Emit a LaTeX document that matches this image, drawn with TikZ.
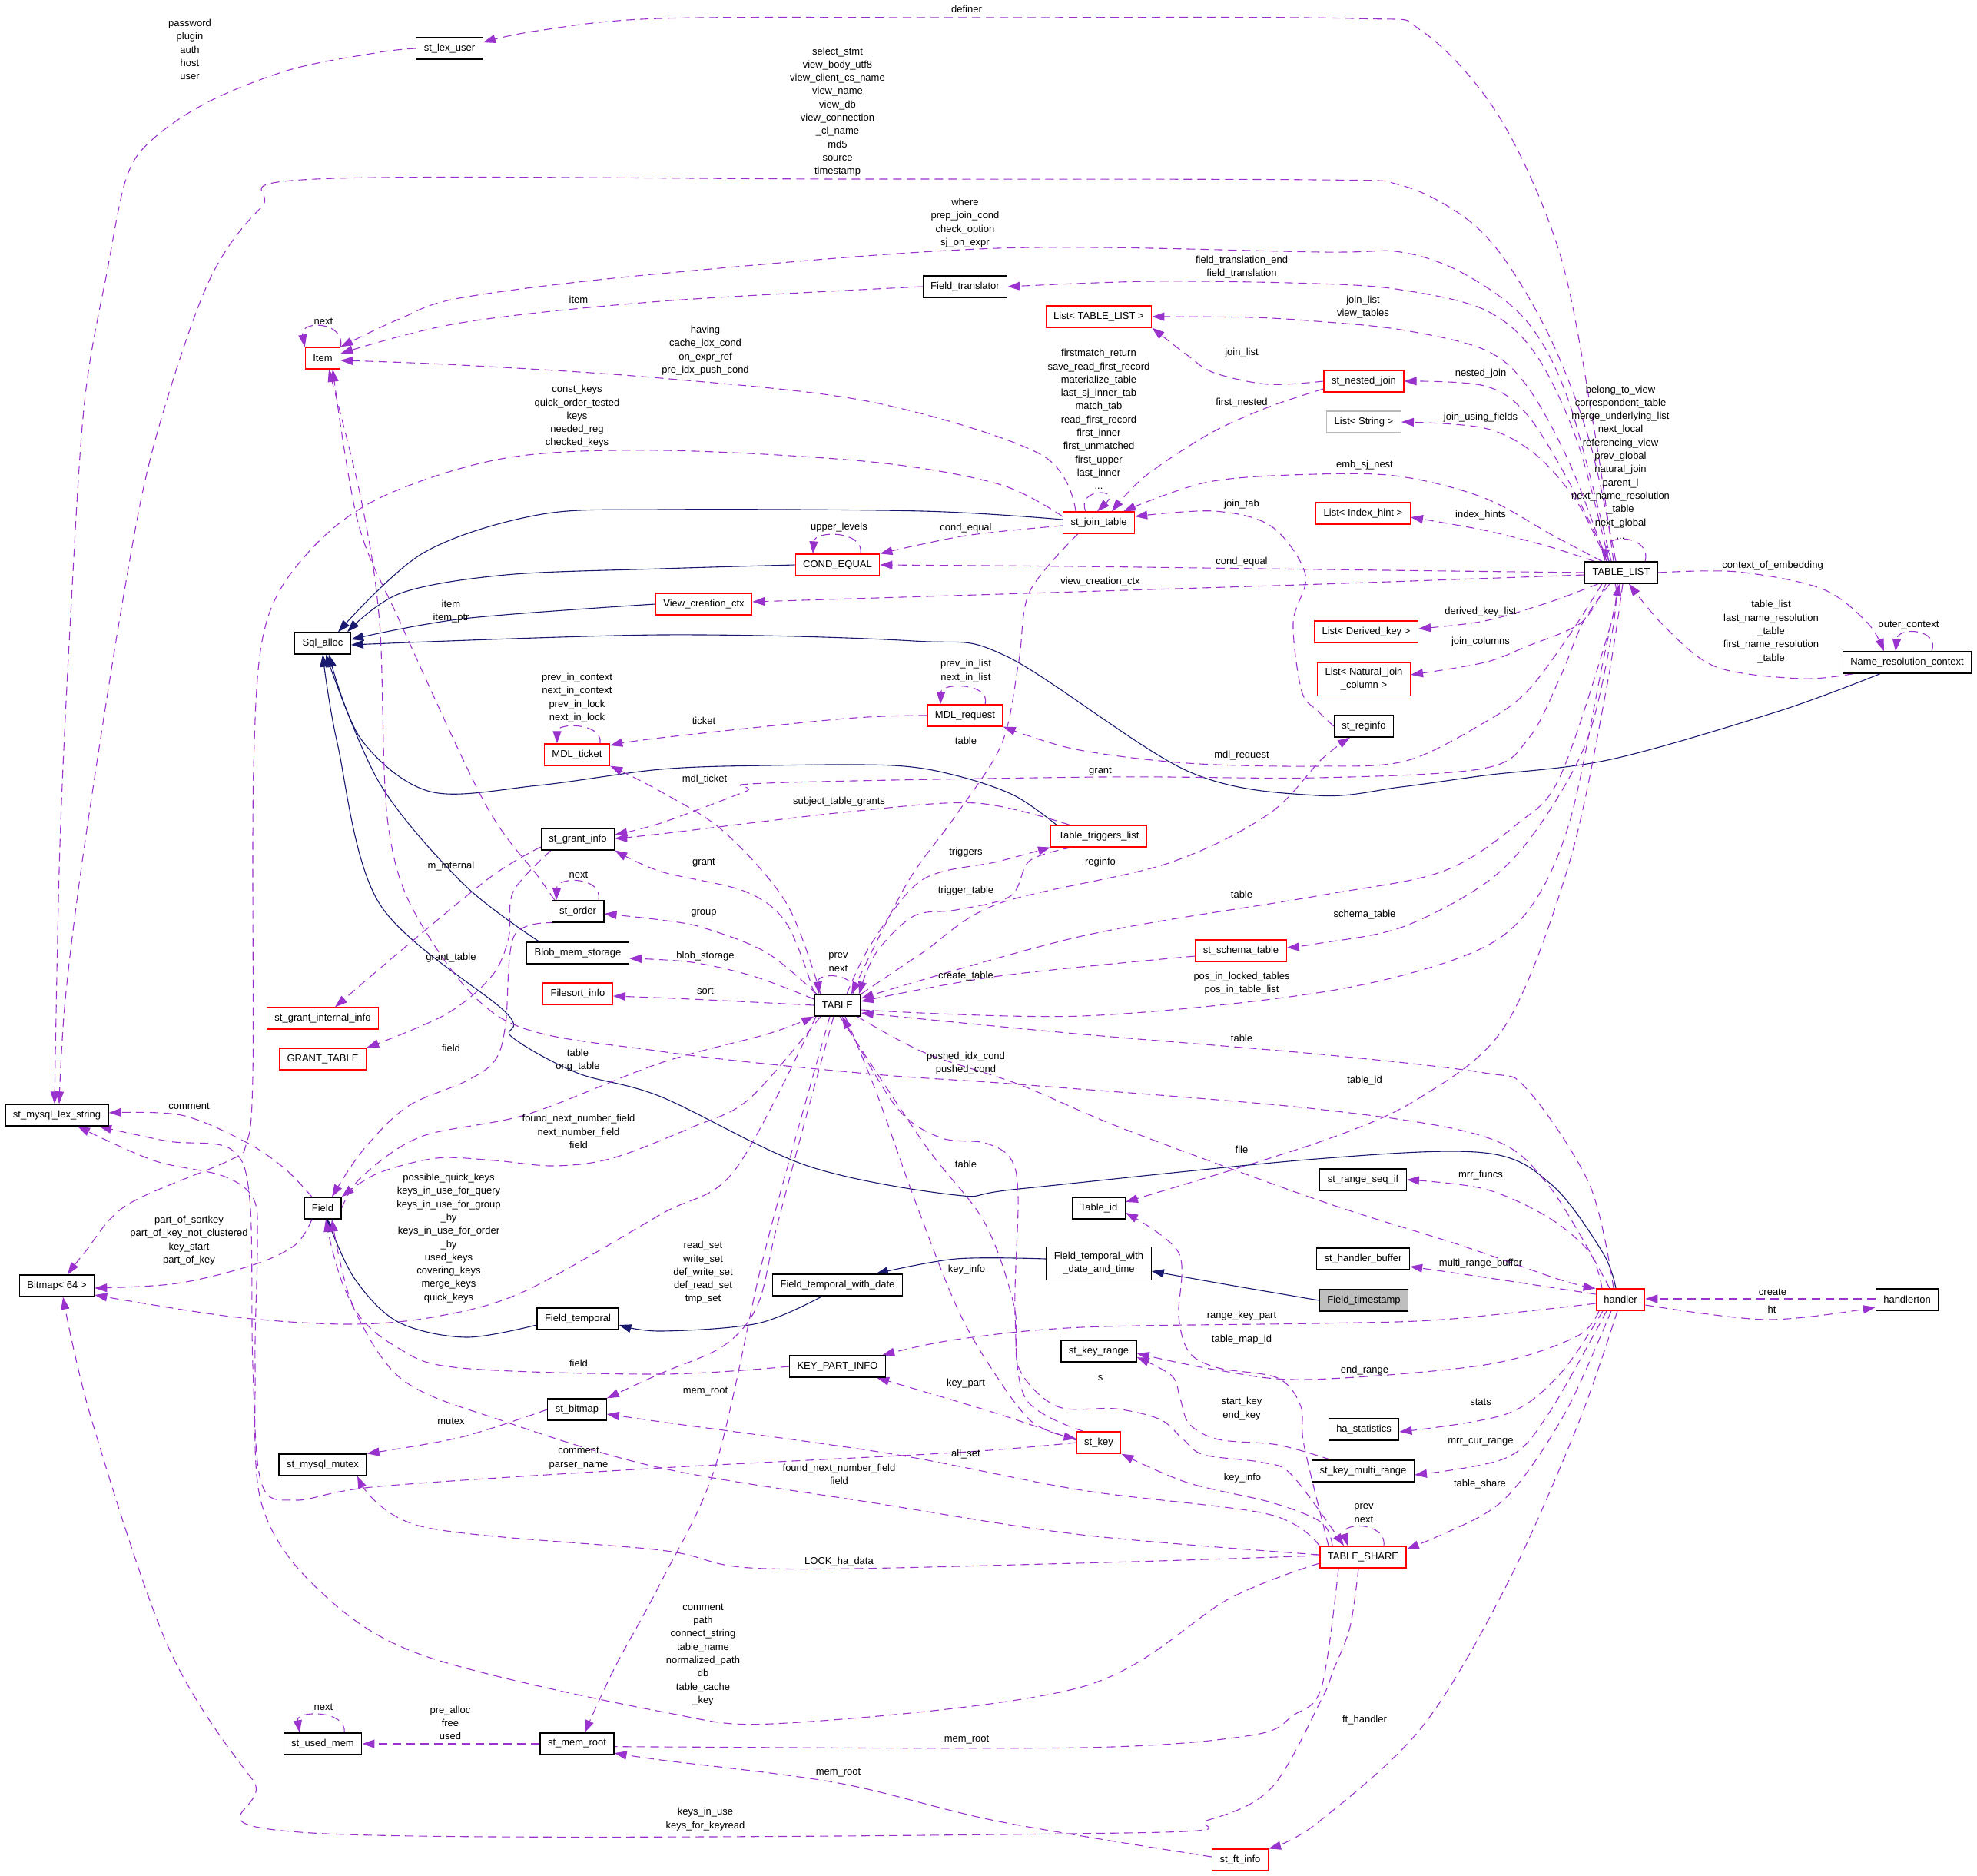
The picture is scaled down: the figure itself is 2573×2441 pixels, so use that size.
\documentclass[tikz,border=0pt]{standalone}
\usepackage{fontspec}
\setmainfont{Liberation Sans}
\usetikzlibrary{arrows.meta}
\pgfdeclarelayer{bg}
\pgfsetlayers{bg,main}
\definecolor{depc}{RGB}{154,50,205}
\definecolor{inhc}{RGB}{25,25,112}
\tikzset{
 cls/.style={draw=black, line width=1.3pt, fill=white, inner xsep=10pt, inner ysep=0pt, minimum height=28pt, font=\fontsize{13}{17}\selectfont, align=center},
 rcls/.style={cls, draw=red},
 gcls/.style={cls, draw=gray!55},
 lab/.style={font=\fontsize{13}{17.3}\selectfont, align=center, inner sep=0pt},
 deparr/.style={draw=depc, line width=1.1pt, dash pattern=on 11pt off 7pt, -{Triangle[length=16pt,width=11pt,fill=depc]}},
 inharr/.style={draw=inhc, line width=1.1pt, -{Triangle[length=16pt,width=11pt,fill=inhc]}},
 sm/.style={smooth, tension=0.55}
}
\begin{document}
\begin{tikzpicture}[x=1pt,y=-1pt]
\useasboundingbox (0,0) rectangle (2573,2441);
\begin{pgfonlayer}{bg}
\fill[white] (0,0) rectangle (2573,2441);
\end{pgfonlayer}
% ---------------- nodes
\node[cls] (stlex) at (585,63) {st\_lex\_user};
\node[rcls] (item) at (420,466) {Item};
\node[cls] (ftrans) at (1256,373) {Field\_translator};
\node[rcls] (ltl) at (1430,412) {List< TABLE\_LIST >};
\node[rcls] (nested) at (1775,496) {st\_nested\_join};
\node[gcls] (lstr) at (1775,549) {List< String >};
\node[rcls] (jt) at (1430,680) {st\_join\_table};
\node[rcls] (lih) at (1774,668) {List< Index\_hint >};
\node[rcls] (condeq) at (1090,735) {COND\_EQUAL};
\node[cls] (TL) at (2110,745) {TABLE\_LIST};
\node[rcls] (vcc) at (916,786) {View\_creation\_ctx};
\node[rcls] (ldk) at (1778,822) {List< Derived\_key >};
\node[cls] (sqla) at (420,837) {Sql\_alloc};
\node[cls] (nrc) at (2482,862) {Name\_resolution\_context};
\node[rcls, inner ysep=7pt] (lnjc) at (1775,884) {List< Natural\_join\\\_column >};
\node[rcls] (mdlreq) at (1256,931) {MDL\_request};
\node[cls] (reginfo) at (1775,945) {st\_reginfo};
\node[rcls] (mdlt) at (751,982) {MDL\_ticket};
\node[rcls] (ttl) at (1430,1088) {Table\_triggers\_list};
\node[cls] (sgi) at (752,1092) {st\_grant\_info};
\node[cls] (order) at (752,1186) {st\_order};
\node[rcls] (schema) at (1615,1237) {st\_schema\_table};
\node[cls] (blob) at (752,1240) {Blob\_mem\_storage};
\node[rcls] (fsi) at (752,1293) {Filesort\_info};
\node[cls] (tbl) at (1090,1308) {TABLE};
\node[rcls] (sgii) at (420,1325) {st\_grant\_internal\_info};
\node[rcls] (gtab) at (420,1378) {GRANT\_TABLE};
\node[cls] (lexs) at (74,1451) {st\_mysql\_lex\_string};
\node[cls] (rseq) at (1774,1535) {st\_range\_seq\_if};
\node[cls] (field) at (420,1572) {Field};
\node[cls] (tid) at (1430,1572) {Table\_id};
\node[cls] (hbuf) at (1774,1638) {st\_handler\_buffer};
\node[cls, inner ysep=7pt] (ftwdt) at (1430,1644) {Field\_temporal\_with\\\_date\_and\_time};
\node[cls] (bitmap) at (74,1673) {Bitmap< 64 >};
\node[cls] (ftwd) at (1090,1672) {Field\_temporal\_with\_date};
\node[cls, fill=gray!50] (fts) at (1775,1692) {Field\_timestamp};
\node[rcls] (handler) at (2109,1691) {handler};
\node[cls] (hton) at (2482,1691) {handlerton};
\node[cls] (ftemp) at (752,1716) {Field\_temporal};
\node[cls] (krange) at (1430,1758) {st\_key\_range};
\node[cls] (kpi) at (1090,1778) {KEY\_PART\_INFO};
\node[cls] (stbm) at (751,1834) {st\_bitmap};
\node[cls] (hastat) at (1775,1860) {ha\_statistics};
\node[rcls] (stkey) at (1430,1877) {st\_key};
\node[cls] (mutex) at (420,1906) {st\_mysql\_mutex};
\node[cls] (kmr) at (1774,1914) {st\_key\_multi\_range};
\node[rcls] (tshare) at (1774,2026) {TABLE\_SHARE};
\node[cls] (usedmem) at (420,2269) {st\_used\_mem};
\node[cls] (memroot) at (751,2269) {st\_mem\_root};
\node[rcls] (ftinfo) at (1614,2420) {st\_ft\_info};
% ---------------- edges
\begin{pgfonlayer}{bg}
% inheritance
\draw[inharr] plot[sm] coordinates {([yshift=4pt]jt.west) (1200,665) (860,663) (700,670) (550,720) ([xshift=20pt]sqla.north)};
\draw[inharr] plot[sm] coordinates {(condeq.west) (860,740) (658,748) (521,772) ([xshift=32pt]sqla.north)};
\draw[inharr] plot[sm] coordinates {(vcc.west) (603,805) ([yshift=5pt]sqla.east)};
\draw[inharr] plot[sm] coordinates {([xshift=-35pt]nrc.south) (2316,925) (2097,988) (1932,1009) (1823,1024) (1713,1035) (1545,1003) (1310,854) (1189,834) (860,826) ([yshift=-2pt]sqla.east)};
\draw[inharr] plot[sm] coordinates {([xshift=-55pt]ttl.north) (1320,1035) (1244,1009) (1162,996) (1000,996) (860,1001) (700,1022) (560,1030) (470,962) ([xshift=8pt]sqla.south)};
\draw[inharr] plot[sm] coordinates {([xshift=-50pt]blob.north) (603,1150) (494,1019) ([xshift=4pt]sqla.south)};
\draw[inharr] plot[sm] coordinates {([xshift=-6pt]handler.north) (2086,1630) (2020,1542) (1932,1500) (1713,1508) (1326,1547) (1244,1555) (1051,1517) (860,1427) (751,1396) (666,1349) (658,1317) (494,1176) (439,967) (sqla.south)};
\draw[inharr] plot[sm] coordinates {([yshift=-8pt]ftemp.west) (606,1740) (518,1720) (461,1663) ([xshift=6pt]field.south)};
\draw[inharr] plot[sm] coordinates {([xshift=-20pt]ftwd.south) (986,1722) (860,1732) ([yshift=-8pt]ftemp.east)};
\draw[inharr] plot[sm] coordinates {([yshift=6pt]ftwdt.west) (1244,1638) ([xshift=50pt]ftwd.north)};
\draw[inharr] plot[sm] coordinates {(fts.west) (1600,1672) ([yshift=-10pt]ftwdt.east)};
% usage
\draw[deparr] plot[sm] coordinates {([xshift=-10pt]TL.north) (2075,560) (2030,330) (1950,150) (1850,40) (1760,24) (1258,23) (860,24) (700,40) ([yshift=8pt]stlex.east)};
\draw[deparr] plot[sm] coordinates {([xshift=-7pt]TL.north) (2069,575) (2020,445) (1960,340) (1905,282) (1823,241) (1713,234) (1100,233) (411,233) (340,270) (270,370) (200,580) (160,780) (110,1100) (85,1300) ([xshift=3pt]lexs.north)};
\draw[deparr] plot[sm] coordinates {(stlex.west) (494,68) (380,90) (274,131) (200,180) (165,230) (140,350) (110,523) (92,800) (78,1100) ([xshift=-3pt]lexs.north)};
\draw[deparr] plot[sm] coordinates {([xshift=-13pt]TL.north) (2042,523) (1987,418) (1905,356) (1823,328) (1720,328) (1299,323) (860,356) (603,387) (520,415) (item.north east)};
\draw[deparr] plot[sm] coordinates {([xshift=-16pt]TL.north) (2053,575) (1998,460) (1932,403) (1823,377) (1713,369) (1500,366) (ftrans.east)};
\draw[deparr] plot[sm] coordinates {(ftrans.west) (860,392) (600,420) ([yshift=6pt]item.east)};
\draw[deparr] plot[sm] coordinates {([xshift=-19pt]TL.north) (2042,601) (1987,502) (1932,455) (1823,429) (1713,418) (1628,413) (ltl.east)};
\draw[deparr] plot[sm] coordinates {(nested.west) (1650,500) (1580,485) (1545,462) (ltl.south east)};
\draw[deparr] plot[sm] coordinates {([xshift=-16pt]TL.north) (2042,627) (1987,539) (1932,502) (nested.east)};
\draw[deparr] plot[sm] coordinates {([xshift=-19pt]TL.north) (2053,654) (1998,591) (1932,557) (lstr.east)};
\draw[deparr] plot[sm] coordinates {([xshift=-25pt]TL.north) (2020,696) (1932,648) (1823,620) (1713,617) (1573,627) ([xshift=-15pt]jt.north east)};
\draw[deparr] plot[sm] coordinates {([xshift=-35pt]TL.north) (2015,711) (1932,690) ([yshift=-5pt]lih.east)};
\draw[deparr] plot[sm] coordinates {(TL.west) (1720,741) (1400,737) (condeq.east)};
\draw[deparr] plot[sm] coordinates {([yshift=-3pt]TL.west) (1720,760) (1400,770) ([yshift=3pt]vcc.east)};
\draw[deparr] ([xshift=31pt]TL.north) .. controls (2150,698) and (2092,692) .. ([xshift=-22pt]TL.north);
\draw[deparr] plot[sm] coordinates {(TL.east) (2261,744) (2371,766) (2430,810) ([xshift=-30pt]nrc.north)};
\draw[deparr] plot[sm] coordinates {([xshift=-70pt]nrc.south) (2344,883) (2234,868) (2168,817) ([xshift=10pt]TL.south)};
\draw[deparr] ([xshift=32pt]nrc.north) .. controls (2525,818) and (2470,815) .. ([xshift=-15pt]nrc.north);
\draw[deparr] plot[sm] coordinates {([xshift=-30pt]TL.south) (2015,784) (1932,808) ([yshift=4pt]ldk.east)};
\draw[deparr] plot[sm] coordinates {([xshift=-20pt]TL.south) (2058,810) (1987,841) (1932,862) ([yshift=6pt]lnjc.east)};
\draw[deparr] plot[sm] coordinates {([xshift=-25pt]TL.south) (2040,830) (1987,900) (1932,940) (1830,990) (1713,997) (1545,993) (1400,975) (mdlreq.south east)};
\draw[deparr] plot[sm] coordinates {([xshift=-15pt]TL.south) (2060,810) (2031,880) (1990,960) (1930,1000) (1713,1012) (1432,1011) (997,1019) (970,1030) (860,1071) ([yshift=6pt]sgi.east)};
\draw[deparr] ([xshift=26pt]mdlreq.north) .. controls (1290,888) and (1225,888) .. ([xshift=-32pt]mdlreq.north);
\draw[deparr] plot[sm] coordinates {(mdlreq.west) (1100,935) (860,960) ([yshift=12pt]mdlt.east)};
\draw[deparr] ([xshift=30pt]mdlt.north) .. controls (785,940) and (725,940) .. ([xshift=-26pt]mdlt.north);
\draw[deparr] plot[sm] coordinates {([xshift=-22pt]tbl.north) (1024,1176) (942,1082) (860,1030) (mdlt.south east)};
\draw[deparr] plot[sm] coordinates {([xshift=-27pt]jt.south) (1340,770) (1326,860) (1304,967) (1244,1061) (1180,1150) ([xshift=18pt]tbl.north)};
\draw[deparr] plot[sm] coordinates {([xshift=-38pt]ttl.north) (1271,1045) (1107,1056) (860,1085) ([yshift=1pt]sgi.east)};
\draw[deparr] plot[sm] coordinates {([xshift=-30pt]tbl.north) (1024,1202) (970,1160) (860,1134) (sgi.south east)};
\draw[deparr] plot[sm] coordinates {([yshift=-10pt]sgi.west) (640,1140) (530,1230) ([xshift=16pt]sgii.north)};
\draw[deparr] plot[sm] coordinates {([xshift=-35pt]sgi.south) (668,1160) (662,1220) (640,1270) (580,1320) (gtab.north east)};
\draw[deparr] plot[sm] coordinates {([xshift=-27pt]tbl.north) (997,1239) (915,1207) (860,1197) ([yshift=-3pt]order.east)};
\draw[deparr] ([xshift=27pt]order.north) .. controls (785,1140) and (725,1140) .. ([xshift=-28pt]order.north);
\draw[deparr] plot[sm] coordinates {([xshift=-30pt]order.north) (700,1140) (631,1045) (521,810) (466,680) ([xshift=13pt]item.south)};
\draw[deparr] plot[sm] coordinates {([yshift=8pt]tbl.west) (980,1270) (900,1252) ([yshift=-7pt]blob.east)};
\draw[deparr] plot[sm] coordinates {(tbl.west) (900,1300) ([yshift=-3pt]fsi.east)};
\draw[deparr] ([xshift=20pt]tbl.north) .. controls (1117,1265) and (1063,1265) .. ([xshift=-24pt]tbl.north);
\draw[deparr] plot[sm] coordinates {([xshift=12pt]tbl.north) (1134,1228) (1200,1145) (1299,1121) (ttl.south west)};
\draw[deparr] plot[sm] coordinates {([xshift=-35pt]ttl.south) (1340,1120) (1315,1166) (1244,1184) (1189,1192) (1140,1240) ([xshift=28pt]tbl.north)};
\draw[deparr] plot[sm] coordinates {(tbl.north east) (1200,1240) (1299,1176) (1518,1124) (1650,1060) (1720,988) ([xshift=-18pt]reginfo.south)};
\draw[deparr] plot[sm] coordinates {([xshift=-8pt]TL.south) (2097,810) (2031,1009) (1976,1071) (1877,1134) (1713,1166) (1408,1218) ([yshift=9pt]tbl.east)};
\draw[deparr] plot[sm] coordinates {([xshift=-5pt]TL.south) (2097,830) (2064,967) (1998,1082) (1932,1150) (1823,1207) (1713,1228) ([yshift=4pt]schema.east)};
\draw[deparr] plot[sm] coordinates {([yshift=-7pt]schema.west) (1300,1270) ([yshift=5pt]tbl.east)};
\draw[deparr] plot[sm] coordinates {([yshift=-6pt]tbl.east) (1408,1322) (1720,1291) (1905,1244) (1987,1187) (2042,1072) (2086,862) ([xshift=-2pt]TL.south)};
\draw[deparr] plot[sm] coordinates {([xshift=-9pt]handler.north) (2069,1542) (1987,1417) (1932,1396) (1720,1372) (1400,1345) ([yshift=-10pt]tbl.east)};
\draw[deparr] plot[sm] coordinates {([xshift=-5pt]tbl.south east) (1204,1370) (1326,1411) (1463,1469) (1720,1563) (1900,1620) (2030,1665) (handler.north west)};
\draw[deparr] plot[sm] coordinates {([xshift=-14pt]handler.north) (2015,1542) (1932,1479) (1713,1443) (1326,1411) (1128,1397) (860,1368) (658,1328) (548,1202) (505,1072) (494,810) (470,650) ([xshift=8pt]item.south)};
\draw[deparr] plot[sm] coordinates {([xshift=-30pt]jt.north) (1354,591) (1134,523) (860,492) (600,475) ([yshift=-3pt]item.east)};
\draw[deparr] plot[sm] coordinates {([yshift=8pt]jt.west) (1300,630) (1134,601) (860,586) (658,596) (494,648) (400,720) (345,816) (330,1000) (329,1400) (320,1490) (296,1511) (165,1568) (110,1630) ([xshift=14pt]bitmap.north)};
\draw[deparr] plot[sm] coordinates {([yshift=-4pt]jt.west) (1257,697) (condeq.north east)};
\draw[deparr] ([xshift=30pt]condeq.north) .. controls (1125,690) and (1060,690) .. ([xshift=-32pt]condeq.north);
\draw[deparr] ([xshift=-17pt]jt.north) .. controls (1400,635) and (1460,635) .. ([xshift=-2pt]jt.north);
\draw[deparr] plot[sm] coordinates {([yshift=-10pt]nested.west) (1650,530) (1573,565) (1490,620) ([xshift=17pt]jt.north)};
\draw[deparr] plot[sm] coordinates {(reginfo.west) (1715,925) (1694,899) (1683,810) (1699,748) (1655,685) (1580,665) ([yshift=8pt]jt.east)};
\draw[deparr] (item.north east) .. controls (450,418) and (390,416) .. (item.north west);
\draw[deparr] plot[sm] coordinates {([xshift=10pt]tbl.south) (1140,1420) (1190,1560) (1244,1698) (1288,1777) (1343,1850) ([yshift=5pt]stkey.west)};
\draw[deparr] plot[sm] coordinates {([xshift=-20pt]stkey.north) (1335,1820) (1321,1710) (1325,1557) (1315,1507) (1281,1487) (1223,1480) (1166,1440) ([xshift=6pt]tbl.south)};
\draw[deparr] plot[sm] coordinates {([xshift=3pt]tbl.south) (1204,1490) (1281,1590) (1320,1700) (1326,1780) (1376,1830) (1452,1833) (1510,1847) (1540,1873) (1567,1893) (1644,1903) (1682,1920) ([xshift=-25pt]tshare.north)};
\draw[deparr] plot[sm] coordinates {([xshift=-5pt]tbl.south) (1050,1450) (1010,1600) (986,1698) (942,1751) (860,1787) (stbm.north east)};
\draw[deparr] plot[sm] coordinates {([xshift=-10pt]tbl.south) (1030,1500) (990,1650) (931,1908) (860,2059) (800,2170) ([xshift=10pt]memroot.north)};
\draw[deparr] plot[sm] coordinates {(stbm.west) (600,1870) (mutex.north east)};
\draw[deparr] plot[sm] coordinates {([yshift=2pt]tshare.west) (1400,2034) (997,2041) (860,2017) (548,1986) ([xshift=45pt]mutex.south)};
\draw[deparr] plot[sm] coordinates {(tshare.north west) (1650,1970) (1408,1939) (1162,1892) (860,1850) ([yshift=-6pt]stbm.east)};
\draw[deparr] plot[sm] coordinates {([yshift=3pt]stkey.west) (1300,1840) (1200,1810) ([xshift=-12pt]kpi.south east)};
\draw[deparr] plot[sm] coordinates {([xshift=-40pt]tshare.north) (1720,1981) (1655,1955) (1545,1929) (stkey.south east)};
\draw[deparr] plot[sm] coordinates {([yshift=-5pt]handler.west) (1877,1717) (1713,1722) (1408,1727) (1244,1743) ([xshift=-5pt]kpi.north east)};
\draw[deparr] plot[sm] coordinates {(kpi.west) (860,1788) (600,1780) (520,1755) (460,1700) ([xshift=12pt]field.south)};
\draw[deparr] plot[sm] coordinates {([xshift=-28pt]handler.south) (2050,1740) (1932,1776) (1701,1795) (1586,1783) ([yshift=-3pt]krange.east)};
\draw[deparr] plot[sm] coordinates {([xshift=-42pt]kmr.north) (1663,1880) (1586,1873) (1548,1853) (1536,1820) (1525,1790) ([yshift=-8pt]krange.east)};
\draw[deparr] plot[sm] coordinates {([xshift=-45pt]tshare.north) (1697,1880) (1693,1830) (1663,1793) (1586,1780) (1548,1760) (1534,1713) (1534,1630) ([yshift=-6pt]tid.east)};
\draw[deparr] plot[sm] coordinates {([xshift=2pt]TL.south) (2090,900) (2042,1124) (1960,1333) (1850,1427) (1720,1485) ([yshift=8pt]tid.east)};
\draw[deparr] plot[sm] coordinates {([xshift=-32pt]tshare.south) (1720,2195) (1683,2232) (1628,2258) (1408,2274) (860,2273) ([yshift=-3pt]memroot.east)};
\draw[deparr] plot[sm] coordinates {([yshift=4pt]ftinfo.west) (1300,2370) (1091,2320) (860,2290) ([yshift=-12pt]memroot.east)};
\draw[deparr] plot[sm] coordinates {([xshift=-6pt]tshare.south) (1757,2117) (1735,2174) (1720,2211) (1655,2326) (1573,2368) (1463,2385) (406,2385) (329,2316) (219,2143) (120,1850) ([xshift=8pt]bitmap.south)};
\draw[deparr] plot[sm] coordinates {([yshift=-8pt]tshare.west) (1600,2080) (1408,2195) (1024,2242) (860,2227) (548,2153) (411,2065) (340,1955) (332,1777) (335,1620) (330,1560) (290,1530) (200,1510) ([xshift=27pt]lexs.south)};
\draw[deparr] plot[sm] coordinates {([xshift=-4pt]handler.south) (2053,1855) (1960,2064) (1850,2248) (1713,2373) (ftinfo.north east)};
\draw[deparr] plot[sm] coordinates {([xshift=-12pt]handler.south) (2042,1829) (1982,1923) (1932,1970) ([yshift=10pt]tshare.east)};
\draw[deparr] plot[sm] coordinates {([xshift=-18pt]handler.south) (2015,1840) (1960,1897) ([yshift=-5pt]kmr.east)};
\draw[deparr] plot[sm] coordinates {([xshift=-23pt]handler.south) (2031,1787) (1960,1840) ([yshift=-3pt]hastat.east)};
\draw[deparr] plot[sm] coordinates {([yshift=7pt]handler.west) (1932,1662) ([yshift=-10pt]hbuf.east)};
\draw[deparr] plot[sm] coordinates {([xshift=-24pt]handler.north) (2069,1630) (2015,1584) (1932,1547) (rseq.east)};
\draw[deparr] ([yshift=1pt]hton.west) -- ([yshift=1pt]handler.east);
\draw[deparr] plot[sm] coordinates {([yshift=-7pt]handler.east) (2300,1717) ([yshift=-10pt]hton.west)};
\draw[deparr] ([xshift=27pt]tshare.north) .. controls (1805,1980) and (1745,1980) .. ([xshift=-20pt]tshare.north);
\draw[deparr] plot[sm] coordinates {([xshift=-14pt]field.south) (384,1620) (329,1646) (230,1670) ([yshift=-3pt]bitmap.east)};
\draw[deparr] plot[sm] coordinates {([xshift=-14pt]field.north) (370,1520) (318,1485) (236,1451) ([yshift=3pt]lexs.east)};
\draw[deparr] plot[sm] coordinates {([xshift=-28pt]tbl.south) (956,1523) (860,1580) (683,1680) (568,1713) (453,1723) (300,1713) ([yshift=-12pt]bitmap.east)};
\draw[deparr] plot[sm] coordinates {(field.east) (470,1532) (548,1479) (686,1450) (860,1383) (1000,1345) (tbl.south west)};
\draw[deparr] plot[sm] coordinates {([xshift=-22pt]tbl.south) (975,1430) (900,1467) (797,1507) (721,1517) (644,1510) (568,1507) (491,1527) (field.north east)};
\draw[deparr] plot[sm] coordinates {([xshift=-30pt]order.south) (669,1218) (658,1333) (644,1380) (606,1407) (530,1440) (472,1497) ([xshift=12pt]field.north)};
\draw[deparr] plot[sm] coordinates {([yshift=3pt]tshare.west) (1408,1997) (1134,1955) (860,1910) (658,1850) (521,1793) (450,1680) ([xshift=4pt]field.south)};
\draw[deparr] plot[sm] coordinates {(stkey.west) (1244,1890) (860,1910) (494,1934) (384,1952) (340,1929) (329,1777) (325,1560) (300,1495) (219,1485) ([xshift=55pt]lexs.south)};
\draw[deparr] (memroot.west) -- (usedmem.east);
\draw[deparr] ([xshift=28pt]usedmem.north) .. controls (452,2225) and (385,2225) .. ([xshift=-30pt]usedmem.north);
\end{pgfonlayer}
% ---------------- labels
\node[lab] (l1) at (247,64.5) {password\\plugin\\auth\\host\\user};
\node[lab] (l2) at (1258,12) {definer};
\node[lab] (l3) at (1090,145.5) {select\_stmt\\view\_body\_utf8\\view\_client\_cs\_name\\view\_name\\view\_db\\view\_connection\\\_cl\_name\\md5\\source\\timestamp};
\node[lab] (l4) at (1256,290) {where\\prep\_join\_cond\\check\_option\\sj\_on\_expr};
\node[lab] (l5) at (1616,347.5) {field\_translation\_end\\field\_translation};
\node[lab] (l6) at (753,390) {item};
\node[lab] (l7) at (1774,399.5) {join\_list\\view\_tables};
\node[lab] (l8) at (1616,459) {join\_list};
\node[lab] (l9) at (918,456) {having\\cache\_idx\_cond\\on\_expr\_ref\\pre\_idx\_push\_cond};
\node[lab] (l10) at (1430,545.5) {firstmatch\_return\\save\_read\_first\_record\\materialize\_table\\last\_sj\_inner\_tab\\match\_tab\\read\_first\_record\\first\_inner\\first\_unmatched\\first\_upper\\last\_inner\\...};
\node[lab] (l11) at (1616,524) {first\_nested};
\node[lab] (l12) at (1927,486) {nested\_join};
\node[lab] (l13) at (1927,543) {join\_using\_fields};
\node[lab] (l14) at (1776,605) {emb\_sj\_nest};
\node[lab] (l15) at (1927,670) {index\_hints};
\node[lab] (l16) at (2109,601.5) {belong\_to\_view\\correspondent\_table\\merge\_underlying\_list\\next\_local\\referencing\_view\\prev\_global\\natural\_join\\parent\_l\\next\_name\_resolution\\\_table\\next\_global\\...};
\node[lab] (l17) at (421,418) {next};
\node[lab] (l18) at (751,542) {const\_keys\\quick\_order\_tested\\keys\\needed\_reg\\checked\_keys};
\node[lab] (l19) at (1616,656) {join\_tab};
\node[lab] (l20) at (1092,686) {upper\_levels};
\node[lab] (l21) at (1257,687) {cond\_equal};
\node[lab] (l22) at (1616,731) {cond\_equal};
\node[lab] (l23) at (2307,736) {context\_of\_embedding};
\node[lab] (l24) at (1432,757) {view\_creation\_ctx};
\node[lab] (l25) at (587,795.5) {item\\item\_ptr};
\node[lab] (l26) at (1927,796) {derived\_key\_list};
\node[lab] (l27) at (2305,822) {table\_list\\last\_name\_resolution\\\_table\\first\_name\_resolution\\\_table};
\node[lab] (l28) at (2484,814) {outer\_context};
\node[lab] (l29) at (1927,835) {join\_columns};
\node[lab] (l30) at (1257,873) {prev\_in\_list\\next\_in\_list};
\node[lab] (l31) at (751,908) {prev\_in\_context\\next\_in\_context\\prev\_in\_lock\\next\_in\_lock};
\node[lab] (l32) at (916,938) {ticket};
\node[lab] (l33) at (1257,964) {table};
\node[lab] (l34) at (1616,983) {mdl\_request};
\node[lab] (l35) at (1432,1004) {grant};
\node[lab] (l36) at (917,1014) {mdl\_ticket};
\node[lab] (l37) at (1092,1043) {subject\_table\_grants};
\node[lab] (l38) at (1257,1109) {triggers};
\node[lab] (l39) at (1432,1122) {reginfo};
\node[lab] (l40) at (916,1123) {grant};
\node[lab] (l41) at (587,1127) {m\_internal};
\node[lab] (l42) at (753,1138) {next};
\node[lab] (l43) at (1257,1159) {trigger\_table};
\node[lab] (l44) at (1616,1164) {table};
\node[lab] (l45) at (916,1188) {group};
\node[lab] (l46) at (1776,1190) {schema\_table};
\node[lab] (l47) at (918,1244) {blob\_storage};
\node[lab] (l48) at (587,1246) {grant\_table};
\node[lab] (l49) at (1091,1252) {prev\\next};
\node[lab] (l50) at (1257,1270) {create\_table};
\node[lab] (l51) at (1616,1279.5) {pos\_in\_locked\_tables\\pos\_in\_table\_list};
\node[lab] (l52) at (918,1289) {sort};
\node[lab] (l53) at (1616,1351) {table};
\node[lab] (l54) at (587,1364) {field};
\node[lab] (l55) at (752,1379.5) {table\\orig\_table};
\node[lab] (l56) at (1257,1383.5) {pushed\_idx\_cond\\pushed\_cond};
\node[lab] (l57) at (1776,1406) {table\_id};
\node[lab] (l58) at (246,1439) {comment};
\node[lab] (l59) at (753,1472.5) {found\_next\_number\_field\\next\_number\_field\\field};
\node[lab] (l60) at (1616,1496) {file};
\node[lab] (l61) at (1257,1515) {table};
\node[lab] (l62) at (1927,1529) {mrr\_funcs};
\node[lab] (l63) at (584,1611) {possible\_quick\_keys\\keys\_in\_use\_for\_query\\keys\_in\_use\_for\_group\\\_by\\keys\_in\_use\_for\_order\\\_by\\used\_keys\\covering\_keys\\merge\_keys\\quick\_keys};
\node[lab] (l64) at (246,1614) {part\_of\_sortkey\\part\_of\_key\_not\_clustered\\key\_start\\part\_of\_key};
\node[lab] (l65) at (915,1656) {read\_set\\write\_set\\def\_write\_set\\def\_read\_set\\tmp\_set};
\node[lab] (l66) at (1258,1652) {key\_info};
\node[lab] (l67) at (1927,1644) {multi\_range\_buffer};
\node[lab] (l68) at (2307,1681) {create};
\node[lab] (l69) at (2306,1704) {ht};
\node[lab] (l70) at (1616,1712) {range\_key\_part};
\node[lab] (l71) at (1616,1743) {table\_map\_id};
\node[lab] (l72) at (753,1774) {field};
\node[lab] (l73) at (1776,1783) {end\_range};
\node[lab] (l74) at (1432,1793) {s};
\node[lab] (l75) at (1257,1800) {key\_part};
\node[lab] (l76) at (918,1811) {mem\_root};
\node[lab] (l77) at (1927,1824) {stats};
\node[lab] (l78) at (1616,1833) {start\_key\\end\_key};
\node[lab] (l79) at (587,1849) {mutex};
\node[lab] (l80) at (1927,1876) {mrr\_cur\_range};
\node[lab] (l81) at (753,1897.5) {comment\\parser\_name};
\node[lab] (l82) at (1257,1892) {all\_set};
\node[lab] (l83) at (1092,1918.5) {found\_next\_number\_field\\field};
\node[lab] (l84) at (1617,1923) {key\_info};
\node[lab] (l85) at (1926,1931) {table\_share};
\node[lab] (l86) at (1775,1969) {prev\\next};
\node[lab] (l87) at (1092,2032) {LOCK\_ha\_data};
\node[lab] (l88) at (915,2153) {comment\\path\\connect\_string\\table\_name\\normalized\_path\\db\\table\_cache\\\_key};
\node[lab] (l89) at (421,2221) {next};
\node[lab] (l90) at (586,2242) {pre\_alloc\\free\\used};
\node[lab] (l91) at (1776,2238) {ft\_handler};
\node[lab] (l92) at (1258,2264) {mem\_root};
\node[lab] (l93) at (1091,2307) {mem\_root};
\node[lab] (l94) at (918,2367) {keys\_in\_use\\keys\_for\_keyread};
\end{tikzpicture}
\end{document}
